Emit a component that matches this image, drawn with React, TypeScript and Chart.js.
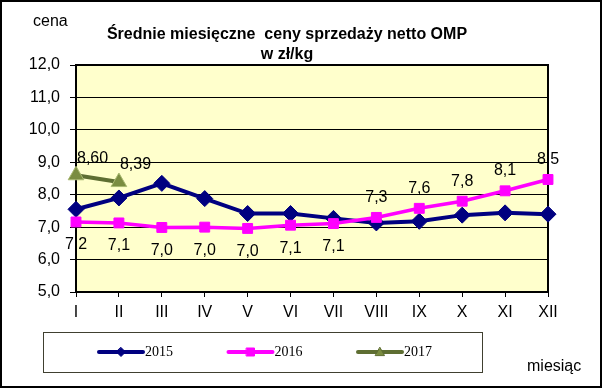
import { useEffect, useRef } from "react";
import { Chart, registerables } from "chart.js";

Chart.register(...registerables);

const months = ["I", "II", "III", "IV", "V", "VI", "VII", "VIII", "IX", "X", "XI", "XII"];
const values2015 = [7.55, 7.9, 8.35, 7.88, 7.42, 7.42, 7.27, 7.13, 7.18, 7.37, 7.44, 7.4];
const values2016 = [7.16, 7.13, 6.99, 7.0, 6.96, 7.06, 7.11, 7.3, 7.58, 7.8, 8.12, 8.47];
const values2017 = [8.6, 8.39, null, null, null, null, null, null, null, null, null, null];
const seriesNames = ["2015", "2016", "2017"];
const yMin = 5;
const yMax = 12;
const yStep = 1;
// 2016 labels: first N below the point, rest above
const labelsBelow2016 = 7;

const titleLine1 = "Średnie miesięczne  ceny sprzedaży netto OMP";
const titleLine2 = "w zł/kg";
const yAxisName = "cena";
const xAxisName = "miesiąc";

const SANS = "'Liberation Sans', Arial, sans-serif";
const SERIF = "'Liberation Serif', 'Times New Roman', serif";

const COL2015 = "#000080";
const COL2016 = "#FF00FF";
const COL2017 = "#5E6E32";
const FILL2017 = "#7A8C40";

const fmt = (v: number, d: number) => v.toFixed(d).replace(".", ",");

function drawMarker(ctx: CanvasRenderingContext2D, kind: string, x: number, y: number, r: number, fill: string, stroke: string) {
  ctx.save();
  ctx.fillStyle = fill;
  ctx.strokeStyle = stroke;
  ctx.lineWidth = 1;
  ctx.beginPath();
  if (kind === "diamond") {
    ctx.moveTo(x, y - r);
    ctx.lineTo(x + r, y);
    ctx.lineTo(x, y + r);
    ctx.lineTo(x - r, y);
  } else if (kind === "square") {
    ctx.rect(x - r, y - r, 2 * r, 2 * r);
  } else {
    ctx.moveTo(x, y - r);
    ctx.lineTo(x + r, y + r * 0.8);
    ctx.lineTo(x - r, y + r * 0.8);
  }
  ctx.closePath();
  ctx.fill();
  ctx.stroke();
  ctx.restore();
}

const decorPlugin = {
  id: "decor",
  beforeDraw(chart: any) {
    const { ctx, chartArea: a, width, height } = chart;
    ctx.save();
    ctx.fillStyle = "#FFFFFF";
    ctx.fillRect(0, 0, width, height);
    ctx.fillStyle = "#FFFFCC";
    ctx.fillRect(a.left, a.top, a.right - a.left, a.bottom - a.top);
    ctx.restore();
  },
  beforeDatasetsDraw(chart: any) {
    const { ctx, chartArea: a } = chart;
    ctx.save();
    ctx.strokeStyle = "#000000";
    ctx.lineWidth = 2;
    ctx.strokeRect(a.left, a.top, a.right - a.left, a.bottom - a.top);
    ctx.restore();
  },
  afterDraw(chart: any) {
    const { ctx, width, height } = chart;
    ctx.save();
    // titles
    ctx.fillStyle = "#000000";
    ctx.textAlign = "center";
    ctx.textBaseline = "middle";
    ctx.font = `bold 16px ${SANS}`;
    ctx.fillText(titleLine1, 287, 35);
    ctx.fillText(titleLine2, 287, 55);
    ctx.font = `16px ${SANS}`;
    ctx.textAlign = "left";
    ctx.fillText(yAxisName, 33, 22);
    ctx.fillText(xAxisName, 527, 367);

    // data labels
    ctx.font = `16px ${SANS}`;
    ctx.textAlign = "center";
    const m16 = chart.getDatasetMeta(1);
    values2016.forEach((v, i) => {
      const p = m16.data[i];
      const dy = i < labelsBelow2016 ? 23 : -20;
      ctx.fillText(fmt(v, 1), p.x, p.y + dy);
    });
    const m17 = chart.getDatasetMeta(2);
    ctx.textAlign = "left";
    values2017.forEach((v, i) => {
      if (v === null) return;
      const p = m17.data[i];
      ctx.fillText(fmt(v, 2), p.x + 1, p.y - 17);
    });

    // legend
    const bx = 43, by = 332, bw = 439, bh = 40;
    ctx.strokeStyle = "#404030";
    ctx.lineWidth = 1;
    ctx.strokeRect(bx + 0.5, by + 0.5, bw, bh);
    const cols = [COL2015, COL2016, COL2017];
    const kinds = ["diamond", "square", "triangle"];
    const fills = [COL2015, COL2016, FILL2017];
    ctx.font = `14px ${SERIF}`;
    ctx.textAlign = "left";
    ctx.textBaseline = "middle";
    seriesNames.forEach((name, i) => {
      const x0 = 99 + i * 129.5;
      const ly = 352;
      ctx.strokeStyle = cols[i];
      ctx.lineWidth = 4;
      ctx.lineCap = "round";
      ctx.beginPath();
      ctx.moveTo(x0, ly);
      ctx.lineTo(x0 + 44, ly);
      ctx.stroke();
      drawMarker(ctx, kinds[i], x0 + 22, ly, kinds[i] === "square" ? 4 : 4.5, fills[i], cols[i]);
      ctx.fillStyle = "#000000";
      ctx.fillText(name, x0 + 46, ly);
    });

    // outer border
    ctx.strokeStyle = "#000000";
    ctx.lineWidth = 2;
    ctx.strokeRect(1, 1, width - 2, height - 2);
    ctx.restore();
  },
};

export default function App() {
  const ref = useRef<HTMLCanvasElement | null>(null);
  useEffect(() => {
    if (!ref.current) return;
    const chart = new Chart(ref.current, {
      type: "line",
      data: {
        labels: months,
        datasets: [
          {
            label: seriesNames[0],
            data: values2015,
            borderColor: COL2015,
            backgroundColor: COL2015,
            borderWidth: 4,
            pointStyle: "rectRot",
            pointRadius: 8,
            pointBorderWidth: 1,
            pointBorderColor: COL2015,
            pointBackgroundColor: COL2015,
            tension: 0,
            order: 3,
          },
          {
            label: seriesNames[1],
            data: values2016,
            borderColor: COL2016,
            backgroundColor: COL2016,
            borderWidth: 3.5,
            pointStyle: "rect",
            pointRadius: 7,
            pointBorderWidth: 1,
            pointBorderColor: COL2016,
            pointBackgroundColor: COL2016,
            tension: 0,
            order: 2,
          },
          {
            label: seriesNames[2],
            data: values2017,
            borderColor: COL2017,
            backgroundColor: FILL2017,
            borderWidth: 4,
            pointStyle: "triangle",
            pointRadius: 9,
            pointBorderWidth: 1,
            pointBorderColor: "#A8B870",
            pointBackgroundColor: FILL2017,
            tension: 0,
            spanGaps: false,
            order: 1,
          },
        ],
      },
      options: {
        responsive: false,
        animation: false,
        devicePixelRatio: 1,
        layout: { padding: { left: 0, right: 54, top: 65, bottom: 0 } },
        plugins: {
          legend: { display: false },
          title: { display: false },
          tooltip: { enabled: false },
        },
        scales: {
          x: {
            type: "category",
            offset: false,
            afterFit: (s: any) => {
              s.height = 96;
            },
            grid: {
              display: true,
              drawOnChartArea: false,
              drawTicks: true,
              tickLength: 5,
              color: "#000000",
              lineWidth: 1,
            },
            border: { display: true, color: "#000000", width: 2 },
            ticks: {
              color: "#000000",
              font: { family: SANS, size: 16 },
              padding: 6,
              maxRotation: 0,
              autoSkip: false,
            },
          },
          y: {
            min: yMin,
            max: yMax,
            afterFit: (s: any) => {
              s.width = 76;
            },
            grid: {
              color: "#000000",
              lineWidth: 1,
              drawTicks: true,
              tickLength: 6,
            },
            border: { display: true, color: "#000000", width: 2 },
            ticks: {
              stepSize: yStep,
              color: "#000000",
              font: { family: SANS, size: 16 },
              padding: 10,
              callback: (v: any) => fmt(Number(v), 1),
            },
          },
        },
      },
      plugins: [decorPlugin],
    } as any);
    return () => chart.destroy();
  }, []);
  return (
    <div style={{ position: "absolute", left: 0, top: 0, width: 602, height: 388 }}>
      <canvas ref={ref} width={602} height={388} style={{ width: 602, height: 388, display: "block" }} />
    </div>
  );
}
